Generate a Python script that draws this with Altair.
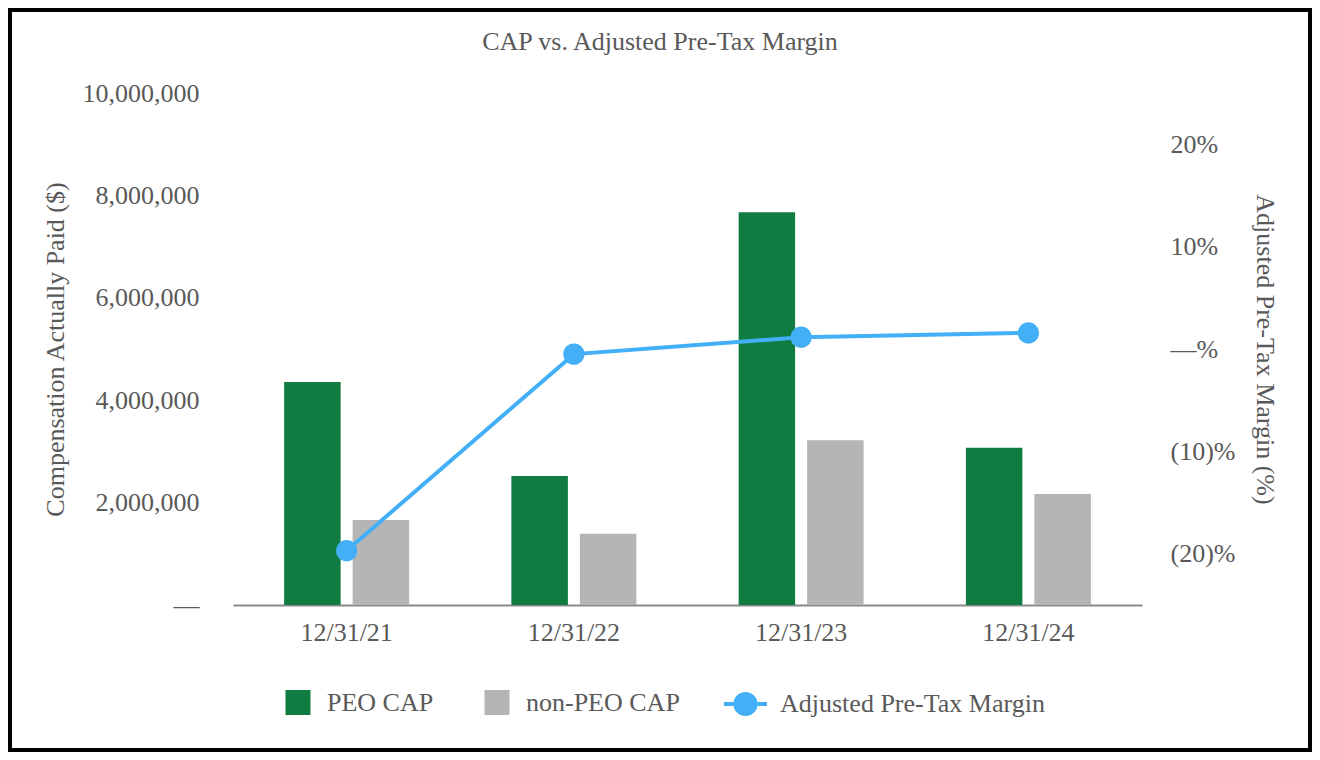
import altair as alt
import pandas as pd

# ---- data ----
dates = ["12/31/21", "12/31/22", "12/31/23", "12/31/24"]
peo_cap = [4355000, 2520000, 7670000, 3070000]
non_peo_cap = [1660000, 1390000, 3220000, 2170000]
pretax_margin = [-0.197, -0.005, 0.0115, 0.0157]
bar_series = ["PEO CAP", "non-PEO CAP"]
line_name = "Adjusted Pre-Tax Margin"
left_ticks = [0, 2000000, 4000000, 6000000, 8000000, 10000000]
right_ticks = [-0.2, -0.1, 0.0, 0.1, 0.2]

bars_df = pd.DataFrame({
    "date": dates * 2,
    "series": [bar_series[0]] * len(dates) + [bar_series[1]] * len(dates),
    "value": peo_cap + non_peo_cap,
})
line_df = pd.DataFrame({
    "date": dates,
    "series": [line_name] * len(dates),
    "margin": pretax_margin,
})

FONT = "Liberation Serif"
GRAY = "#595959"
GREEN = "#107c41"
LIGHT = "#b5b5b5"
BLUE = "#42aff7"
FS = 26

x_enc = alt.X(
    "date:N", sort=dates,
    scale=alt.Scale(paddingInner=0.45, paddingOuter=0.225),
    axis=alt.Axis(title=None, labelAngle=0, labelFontSize=FS, labelFont=FONT,
                  labelColor=GRAY, labelPadding=14, ticks=False,
                  domainColor="#8a8a8a", domainWidth=2),
)

bars = alt.Chart(bars_df).mark_bar().encode(
    x=x_enc,
    xOffset=alt.XOffset("series:N", sort=bar_series,
                        scale=alt.Scale(paddingInner=0.175, paddingOuter=0)),
    y=alt.Y("value:Q", scale=alt.Scale(domain=[0, 10000000]),
            axis=alt.Axis(orient="left", values=left_ticks,
                          title="Compensation Actually Paid ($)",
                          labelExpr="datum.value == 0 ? '—' : format(datum.value, ',')",
                          grid=False, domain=False, ticks=False, labelPadding=34,
                          labelFontSize=FS, labelFont=FONT, labelColor=GRAY,
                          titleFontSize=FS, titleFont=FONT, titleColor=GRAY,
                          titleFontWeight="normal", titlePadding=14)),
    color=alt.Color("series:N", sort=bar_series,
                    scale=alt.Scale(domain=bar_series, range=[GREEN, LIGHT]),
                    legend=alt.Legend(title=None, orient="none", legendX=52, legendY=596.5,
                                      direction="horizontal", symbolType="square",
                                      symbolSize=625, symbolStrokeWidth=0,
                                      labelFontSize=FS, labelFont=FONT, labelColor=GRAY,
                                      labelOffset=16, columnPadding=50, padding=0,
                                      labelLimit=400)),
)

LINE_SYMBOL = "M-1,0L1,0M-0.47,0A0.47,0.47,0,1,1,0.47,0A0.47,0.47,0,1,1,-0.47,0Z"

right_axis = alt.Axis(orient="right", values=right_ticks,
                      title="Adjusted Pre-Tax Margin (%)", titleAngle=90,
                      labelExpr="datum.value == 0 ? '—%' : (datum.value < 0 ? '(' + format(-datum.value * 100, '.0f') + ')%' : format(datum.value * 100, '.0f') + '%')",
                      grid=False, domain=False, ticks=False, labelPadding=28,
                      labelFontSize=FS, labelFont=FONT, labelColor=GRAY,
                      titleFontSize=FS, titleFont=FONT, titleColor=GRAY,
                      titleFontWeight="normal", titlePadding=17)
y_margin = alt.Y("margin:Q", scale=alt.Scale(domain=[-0.25, 0.25]), axis=right_axis)

line = alt.Chart(line_df).mark_line(strokeWidth=4).encode(
    x=x_enc,
    y=y_margin,
    stroke=alt.Stroke("series:N",
                      scale=alt.Scale(domain=[line_name], range=[BLUE]),
                      legend=alt.Legend(title=None, orient="none", legendX=489, legendY=587.5,
                                        symbolType=LINE_SYMBOL, symbolSize=1849,
                                        symbolStrokeWidth=4, symbolFillColor=BLUE,
                                        labelFontSize=FS, labelFont=FONT, labelColor=GRAY,
                                        labelOffset=11, padding=0, labelLimit=400)),
)

points = alt.Chart(line_df).mark_circle(size=452, color=BLUE, opacity=1).encode(
    x=x_enc,
    y=y_margin,
)

border = alt.Chart(pd.DataFrame({"k": [0]})).mark_rect(
    fill=None, stroke="black", strokeWidth=4
).encode(
    x=alt.value(-223), x2=alt.value(1077),
    y=alt.value(-83), y2=alt.value(657),
)

chart = alt.layer(
    bars, alt.layer(line, points), border
).resolve_scale(y="independent").properties(
    width=909, height=512,
    autosize=alt.AutoSizeParams(type="none"),
    padding={"left": 225, "top": 85, "right": 170, "bottom": 147},
    title=alt.TitleParams("CAP vs. Adjusted Pre-Tax Margin", font=FONT, fontSize=FS,
                          fontWeight="normal", color=GRAY, anchor="middle",
                          frame="group", dx=-27.5, baseline="alphabetic", offset=-68),
).configure(background="white").configure_view(strokeWidth=0, stroke="transparent")

chart.save("out.html", embed_options={"renderer": "svg", "actions": False})
